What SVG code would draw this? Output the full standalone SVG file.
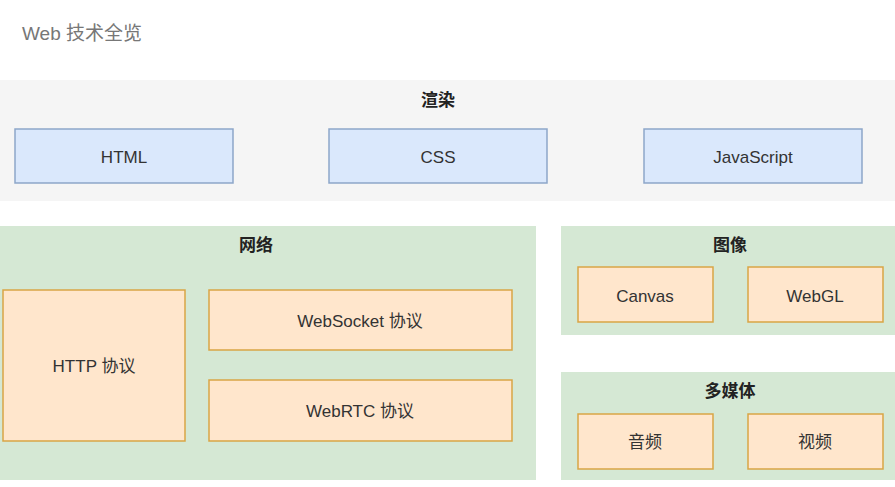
<svg xmlns="http://www.w3.org/2000/svg" width="895" height="487" viewBox="0 0 895 487">
<style>
text{font-family:"Liberation Sans","Noto Sans CJK SC",sans-serif;font-size:17px;fill:#333;text-anchor:middle;dominant-baseline:central}
.title{text-anchor:start;font-size:19px;fill:#777}
.hdr{font-weight:bold;fill:#222}
.band{fill:#f5f5f5}
.panel{fill:#d5e8d4}
.blue{fill:#dae8fc;stroke:#8da6c9;stroke-width:1.5}
.orange{fill:#ffe6cc;stroke:#d9a545;stroke-width:1.5}
</style>
<rect width="895" height="487" fill="#ffffff"/>
<text class="title" x="22" y="33">Web 技术全览</text>
<g id="render">
<rect class="band" x="0" y="80" width="895" height="121"/>
<text class="hdr" x="438" y="100">渲染</text>
</g>
<g id="html"><rect class="blue" x="15" y="129" width="218" height="54"/><text x="124" y="157">HTML</text></g>
<g id="css"><rect class="blue" x="329" y="129" width="218" height="54"/><text x="438" y="157">CSS</text></g>
<g id="js"><rect class="blue" x="644" y="129" width="218" height="54"/><text x="753" y="157">JavaScript</text></g>
<g id="network">
<rect class="panel" x="0" y="226" width="536" height="254"/>
<text class="hdr" x="256" y="245">网络</text>
</g>
<g id="http"><rect class="orange" x="3" y="290" width="182" height="151"/><text x="94" y="366">HTTP 协议</text></g>
<g id="websocket"><rect class="orange" x="209" y="290" width="303" height="60"/><text x="360" y="321">WebSocket 协议</text></g>
<g id="webrtc"><rect class="orange" x="209" y="380" width="303" height="61"/><text x="360" y="411">WebRTC 协议</text></g>
<g id="image">
<rect class="panel" x="561" y="226" width="334" height="109"/>
<text class="hdr" x="730" y="245">图像</text>
</g>
<g id="canvas"><rect class="orange" x="578" y="267" width="135" height="55"/><text x="645" y="296">Canvas</text></g>
<g id="webgl"><rect class="orange" x="748" y="267" width="135" height="55"/><text x="815" y="296">WebGL</text></g>
<g id="multimedia">
<rect class="panel" x="561" y="372" width="334" height="108"/>
<text class="hdr" x="730" y="391">多媒体</text>
</g>
<g id="audio"><rect class="orange" x="578" y="414" width="135" height="55"/><text x="645" y="442">音频</text></g>
<g id="video"><rect class="orange" x="748" y="414" width="135" height="55"/><text x="815" y="442">视频</text></g>
<g id="connectors"></g>
</svg>
